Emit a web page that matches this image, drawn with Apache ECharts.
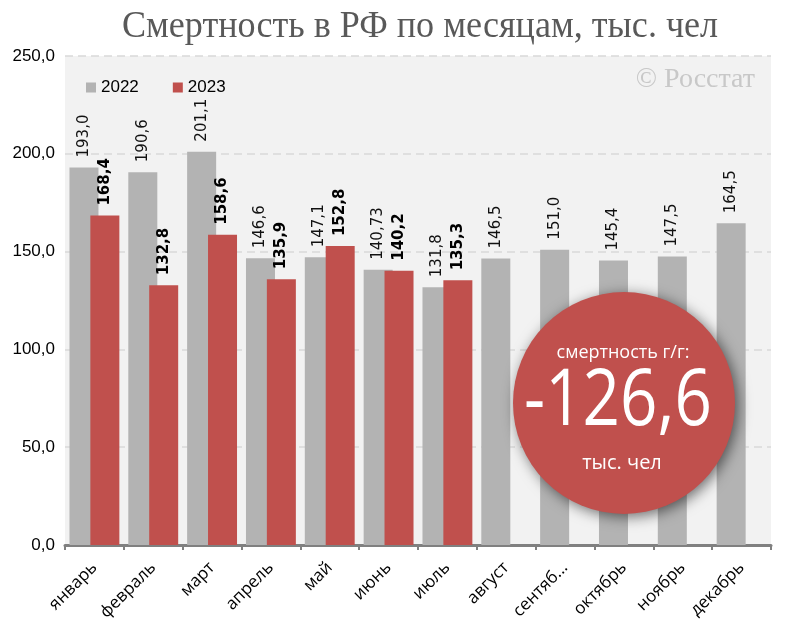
<!DOCTYPE html>
<html>
<head>
<meta charset="utf-8">
<script src="https://cdn.jsdelivr.net/npm/echarts@6/dist/echarts.min.js"></script>
<style>html,body{margin:0;padding:0;background:#fff}#c{width:800px;height:632px}</style>
</head>
<body>
<div id="c"></div>
<script>
const months = ['январь','февраль','март','апрель','май','июнь','июль','август','сентяб...','октябрь','ноябрь','декабрь'];
const deaths2022 = [193.0, 190.6, 201.1, 146.6, 147.1, 140.73, 131.8, 146.5, 151.0, 145.4, 147.5, 164.5];
const deaths2023 = [168.4, 132.8, 158.6, 135.9, 152.8, 140.2, 135.3, null, null, null, null, null];
const yTicks = [0, 50, 100, 150, 200, 250];
const badgeValue = '-126,6';

function fmt(v) {
  const t = v * 10;
  const s = Math.abs(Math.round(t) - t) < 1e-9 ? v.toFixed(1) : String(v);
  return s.replace('.', ',');
}

const chart = echarts.init(document.getElementById('c'));
const labelBase = {
  show: true, position: 'top', rotate: 90, align: 'left', verticalAlign: 'middle',
  distance: 10, fontFamily: 'DejaVu Sans', fontSize: 15, color: '#111',
  formatter: p => fmt(p.value)
};
chart.setOption({
  animation: false,
  backgroundColor: '#fff',
  graphic: [
    { type: 'text', x: 420, y: 27, z: 5, scaleX: 0.95,
      style: { text: 'Смертность в РФ по месяцам, тыс. чел', fontFamily: 'Liberation Serif', fontSize: 38, fill: '#595959', textAlign: 'center', textVerticalAlign: 'middle' } },
    { type: 'text', right: 45, top: 66, z: 5,
      style: { text: '© Росстат', fontFamily: 'Liberation Serif', fontSize: 28, fill: '#c8c8c8' } },
    { type: 'circle', shape: { cx: 624, cy: 403, r: 111 }, z: 10,
      style: { fill: '#c0504d', shadowBlur: 14, shadowColor: 'rgba(0,0,0,0.55)', shadowOffsetX: 3, shadowOffsetY: 3 } },
    { type: 'text', x: 623, y: 353, z: 11,
      style: { text: 'смертность г/г:', fontFamily: 'Open Sans', fontSize: 18, fill: '#fff', textAlign: 'center', textVerticalAlign: 'middle' } },
    { type: 'text', x: 618, y: 403, z: 11, scaleX: 0.84,
      style: { text: badgeValue, fontFamily: 'Open Sans', fontSize: 78, fill: '#fff', textAlign: 'center', textVerticalAlign: 'middle' } },
    { type: 'text', x: 622, y: 463, z: 11,
      style: { text: 'тыс. чел', fontFamily: 'Open Sans', fontSize: 20, fill: '#fff', textAlign: 'center', textVerticalAlign: 'middle' } }
  ],
  legend: {
    left: 81, top: 74, itemWidth: 10, itemHeight: 10, itemGap: 34, icon: 'rect',
    textStyle: { fontFamily: 'Liberation Sans', fontSize: 17, color: '#000' }
  },
  grid: { left: 65, right: 29, top: 56, bottom: 87, show: true, backgroundColor: '#f2f2f2', borderWidth: 0 },
  xAxis: {
    type: 'category', data: months,
    axisLine: { lineStyle: { color: '#808080', width: 3 } },
    axisTick: { show: true, length: 5, lineStyle: { color: '#808080', width: 2 } },
    axisLabel: { rotate: 45, fontFamily: 'Open Sans', fontSize: 17, color: '#000', margin: 20, interval: 0 }
  },
  yAxis: {
    type: 'value', min: yTicks[0], max: yTicks[yTicks.length - 1], interval: 50,
    axisLine: { show: false }, axisTick: { show: false },
    axisLabel: { fontFamily: 'Liberation Sans', fontSize: 17, color: '#000', margin: 10, formatter: v => fmt(v) },
    splitLine: { lineStyle: { color: '#d9d9d9', type: [8, 5], width: 1.5 } }
  },
  series: [
    { name: '2022', type: 'bar', data: deaths2022, barWidth: 29, barGap: '-28%',
      itemStyle: { color: '#b3b3b3' }, label: labelBase },
    { name: '2023', type: 'bar', data: deaths2023, barWidth: 29, barGap: '-28%',
      itemStyle: { color: '#c0504d' }, label: Object.assign({}, labelBase, { fontWeight: 'bold', color: '#000' }) }
  ]
});
</script>
</body>
</html>
